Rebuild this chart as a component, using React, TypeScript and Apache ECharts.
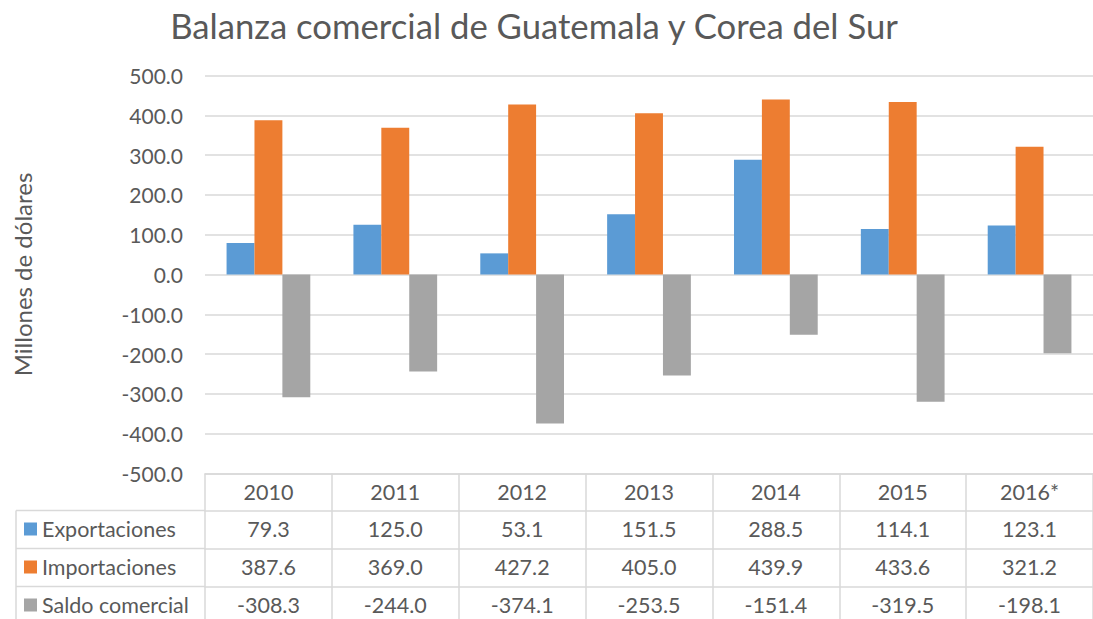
import React, { useEffect, useRef } from "react";
import * as echarts from "echarts";

const categories = ["2010", "2011", "2012", "2013", "2014", "2015", "2016*"];
const exportaciones = [79.3, 125.0, 53.1, 151.5, 288.5, 114.1, 123.1];
const importaciones = [387.6, 369.0, 427.2, 405.0, 439.9, 433.6, 321.2];
const saldo = [-308.3, -244.0, -374.1, -253.5, -151.4, -319.5, -198.1];
const seriesNames = ["Exportaciones", "Importaciones", "Saldo comercial"];
const seriesColors = ["#5B9BD5", "#ED7D31", "#A5A5A5"];

const FONT = "Lato, 'Noto Sans', sans-serif";
const TXT = "#595959";
const LINE = "#D9D9D9";

export default function App() {
  const ref = useRef<HTMLDivElement>(null);
  useEffect(() => {
    if (!ref.current) return;
    const chart = echarts.init(ref.current, null, { renderer: "svg" });
    const rows = [exportaciones, importaciones, saldo];
    const labelStyle = {
      color: TXT,
      fontSize: 21.5,
      lineHeight: 22,
      fontFamily: FONT,
      margin: 7.5,
    };
    const tableAxes = rows.map((vals, i) => ({
      type: "category",
      gridIndex: 0,
      position: "bottom",
      offset: 37 + i * 38,
      data: vals.map((v) => v.toFixed(1)),
      axisLine: { show: true, onZero: false, lineStyle: { color: LINE, width: 1.5 } },
      axisTick: { show: false },
      axisLabel: { ...labelStyle, interval: 0 },
      splitLine: { show: false },
    }));
    chart.setOption({
      animation: false,
      backgroundColor: "#fff",
      title: {
        text: "Balanza comercial de Guatemala y Corea del Sur",
        left: 529,
        textAlign: "center",
        top: 3,
        textStyle: { color: TXT, fontSize: 34.7, fontWeight: "normal", fontFamily: FONT },
      },
      legend: {
        orient: "vertical",
        left: 24,
        top: 518,
        padding: 0,
        itemWidth: 13,
        itemHeight: 13,
        itemGap: 16,
        icon: "rect",
        data: seriesNames,
        textStyle: { color: TXT, fontSize: 21.5, lineHeight: 22, fontFamily: FONT },
        selectedMode: false,
      },
      grid: { left: 205, right: -8, top: 75.5, bottom: 145.5, containLabel: false },
      xAxis: [
        {
          type: "category",
          gridIndex: 0,
          position: "bottom",
          data: categories,
          axisLine: { show: true, onZero: false, lineStyle: { color: LINE, width: 1.5 } },
          axisTick: { show: true, length: 150, lineStyle: { color: LINE, width: 1.5 } },
          axisLabel: { ...labelStyle, interval: 0 },
          splitLine: { show: false },
        },
        ...tableAxes,
      ],
      yAxis: {
        type: "value",
        min: -500,
        max: 500,
        interval: 100,
        name: "Millones de dólares",
        nameLocation: "middle",
        nameGap: 171,
        nameTextStyle: { color: TXT, fontSize: 24, fontFamily: FONT },
        axisLine: { show: false },
        axisTick: { show: false },
        axisLabel: {
          color: TXT,
          fontSize: 21,
          fontFamily: FONT,
          margin: 22,
          formatter: (v: number) => v.toFixed(1),
        },
        splitLine: { lineStyle: { color: LINE, width: 1.5 } },
      },
      series: rows.map((vals, i) => ({
        name: seriesNames[i],
        type: "bar",
        xAxisIndex: 0,
        data: vals,
        barGap: "0%",
        barCategoryGap: "34%",
        itemStyle: { color: seriesColors[i] },
      })),
      graphic: [
        { type: "line", shape: { x1: 16, y1: 510.5, x2: 16, y2: 630 }, style: { stroke: LINE, lineWidth: 1.5 } },
        { type: "line", shape: { x1: 16, y1: 510.5, x2: 205, y2: 510.5 }, style: { stroke: LINE, lineWidth: 1.5 } },
        { type: "line", shape: { x1: 16, y1: 548.5, x2: 205, y2: 548.5 }, style: { stroke: LINE, lineWidth: 1.5 } },
        { type: "line", shape: { x1: 16, y1: 586.5, x2: 205, y2: 586.5 }, style: { stroke: LINE, lineWidth: 1.5 } },
      ],
    });
    return () => chart.dispose();
  }, []);
  return (
    <div
      ref={ref}
      style={{ position: "fixed", left: 0, top: 0, width: 1093, height: 619 }}
    />
  );
}
